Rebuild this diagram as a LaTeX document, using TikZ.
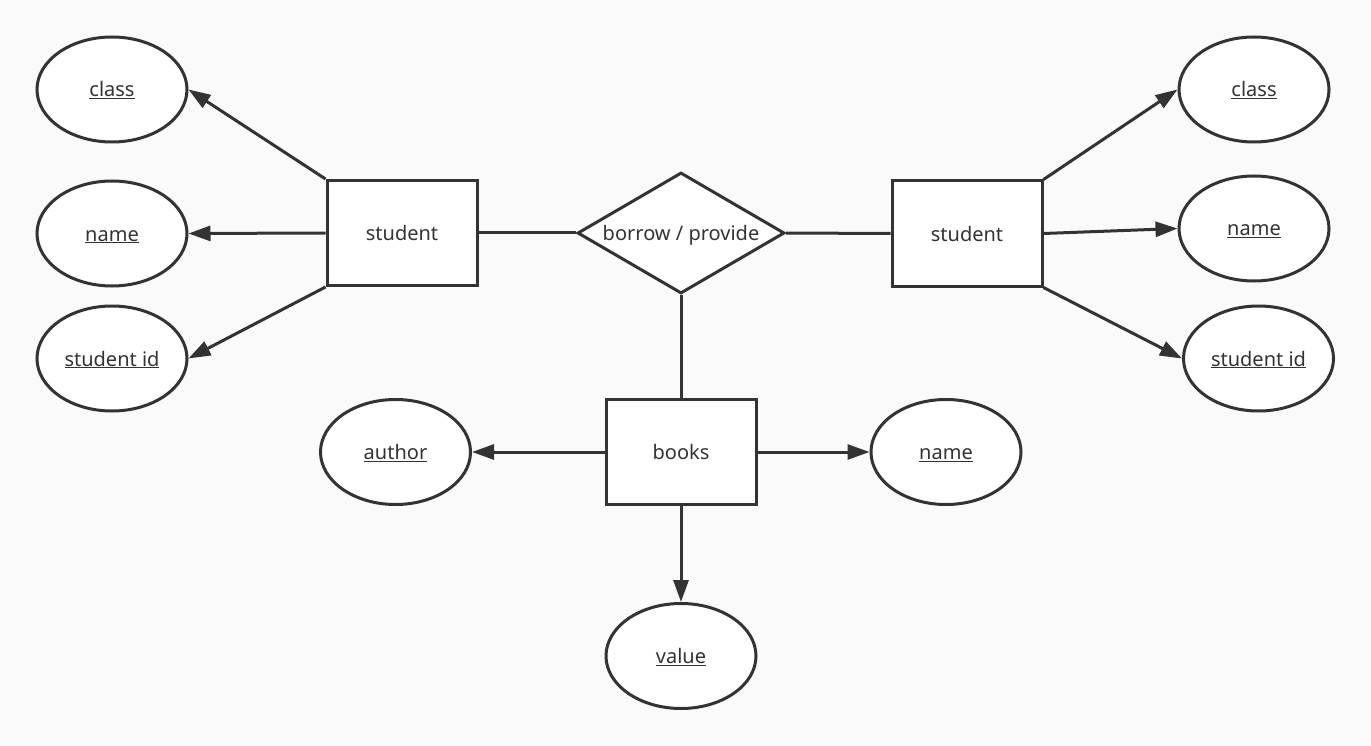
\documentclass[tikz,border=0pt]{standalone}
\usepackage{fontspec}
\setmainfont{Noto Sans}
\usetikzlibrary{shapes.geometric,arrows.meta}
\definecolor{ink}{HTML}{333333}
\definecolor{bg}{HTML}{FAFAFA}
\begin{document}
\begin{tikzpicture}[x=1pt,y=-1pt,
  every node/.style={font=\fontsize{20}{24}\selectfont, text=ink, text height=17pt, text depth=2pt},
  attr/.style={ellipse, draw=ink, line width=3pt, fill=white, minimum width=150pt, minimum height=105pt, inner sep=0pt},
  entity/.style={rectangle, draw=ink, line width=3pt, fill=white, minimum width=150pt, minimum height=105pt, inner sep=0pt},
  rel/.style={diamond, draw=ink, line width=3pt, fill=white, aspect=1.71, minimum width=207pt, minimum height=121pt, inner sep=0pt},
  link/.style={draw=ink, line width=3pt},
  arr/.style={link, -{Triangle[length=22pt,width=15pt]}}
]
\fill[bg] (0,0) rectangle (1371,746);
\useasboundingbox (0,0) rectangle (1371,746);

% nodes
\node[entity] (sl) at (402,233) {student};
\node[entity] (sr) at (967,233.5) {student};
\node[rel] (dia) at (681,233) {borrow / provide};
\node[entity] (bk) at (681,452) {books};

\node[attr] (lc) at (112,89.5) {\underline{class}};
\node[attr] (ln) at (112,233.5) {\underline{name}};
\node[attr] (lid) at (112,358.5) {\underline{student id}};

\node[attr] (rc) at (1254,89.5) {\underline{class}};
\node[attr] (rn) at (1254,228.5) {\underline{name}};
\node[attr] (rid) at (1258.5,358.5) {\underline{student id}};

\node[attr] (au) at (395.5,452) {\underline{author}};
\node[attr] (bn) at (946,452) {\underline{name}};
\node[attr] (val) at (681,656) {\underline{value}};

% connectors
\draw[link] (sl.east) -- (dia.west);
\draw[link] (dia.east) -- (sr.west);
\draw[link] (dia.south) -- (bk.north);

\draw[arr] (sl.north west) -- (lc.east);
\draw[arr] (sl.west) -- (ln.east);
\draw[arr] (sl.south west) -- (lid.east);

\draw[arr] (sr.north east) -- (rc.west);
\draw[arr] (sr.east) -- (rn.west);
\draw[arr] (sr.south east) -- (rid.west);

\draw[arr] (bk.west) -- (au.east);
\draw[arr] (bk.east) -- (bn.west);
\draw[arr] (bk.south) -- (val.north);
\end{tikzpicture}
\end{document}
